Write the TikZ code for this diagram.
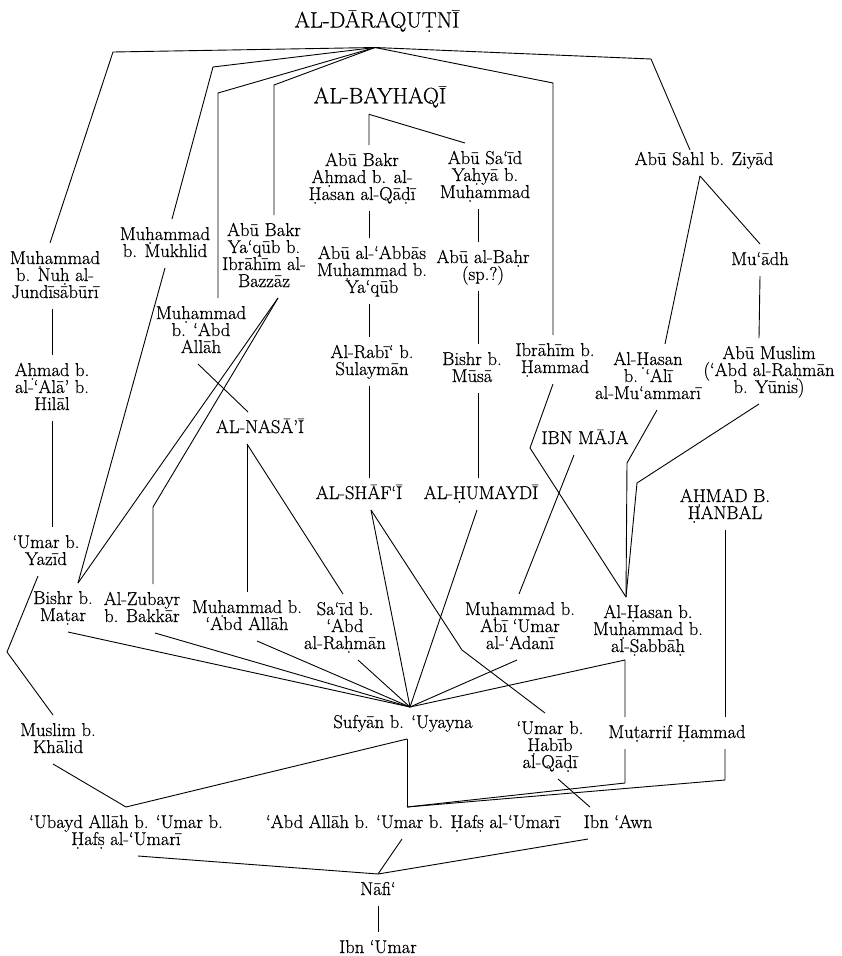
\documentclass[tikz,border=0pt]{standalone}
\usepackage{fontspec}
\setmainfont{Latin Modern Roman}[FakeBold=0.6]
% name text: tight leading, fixed first-line height and last-line depth
\newcommand\nmfont{\fontsize{18.6pt}{17pt}\selectfont\lineskiplimit=-50pt\lineskip=0pt\relax}
\newcommand\hdfont{\fontsize{22.3pt}{19pt}\selectfont\lineskiplimit=-50pt\lineskip=0pt\relax}
\newcommand\nTop{\rule{0pt}{16pt}}
\newcommand\hTop{\rule{0pt}{20pt}}
\newcommand\nBot{\rule[-6pt]{0pt}{6pt}}
\begin{document}
\begin{tikzpicture}[x=1pt,y=-1pt,
  nm/.style={font=\nmfont,align=center,inner sep=0pt,outer sep=5pt,anchor=north},
  hd/.style={font=\hdfont,align=center,inner sep=0pt,outer sep=5pt,anchor=north},
  ln/.style={draw,line width=0.9pt,line join=round}]
\useasboundingbox (0,0) rectangle (841,956);

% ---- names ----
\node[hd] (dar) at (377,2.5) {\hTop AL-DĀRAQUṬNĪ\nBot};
\node[hd] (bay) at (380,78.3) {\hTop AL-BAYHAQĪ\nBot};

\node[nm] (abubakrA) at (362,145) {\nTop Abū Bakr\\Aḥmad b. al-\\Ḥasan al-Qāḍī\nBot};
\node[nm] (abusaid) at (485,143) {\nTop Abū Sa‘īd\\Yaḥyā b.\\Muḥammad\nBot};
\node[nm] (abbas) at (372,238) {\nTop Abū al-‘Abbās\\Muḥammad b.\\Ya‘qūb\nBot};
\node[nm] (bahr) at (483,242) {\nTop Abū al-Baḥr\\(sp.?)\nBot};
\node[nm] (rabi) at (372,337) {\nTop Al-Rabī‘ b.\\Sulaymān\nBot};
\node[nm] (bishrM) at (472,344) {\nTop Bishr b.\\Mūsā\nBot};
\node[nm] (ibrahim) at (555,335) {\nTop Ibrāhīm b.\\Ḥammad\nBot};
\node[nm] (hasanA) at (648,344) {\nTop Al-Ḥasan\\b. ‘Alī\\al-Mu‘ammarī\nBot};
\node[nm] (abumuslim) at (769,338) {\nTop Abū Muslim\\(‘Abd al-Raḥmān\\b. Yūnis)\nBot};
\node[nm] (abusahl) at (704,144) {\nTop Abū Sahl b. Ziyād\nBot};
\node[nm] (muadh) at (760,244) {\nTop Mu‘ādh\nBot};

\node[nm] (nuh) at (55,243) {\nTop Muḥammad\\b. Nuḥ al-\\Jundīsābūrī\nBot};
\node[nm] (ahmadAla) at (52,355) {\nTop Aḥmad b.\\al-‘Alā’ b.\\Hilāl\nBot};
\node[nm] (umarYazid) at (46,527) {\nTop ‘Umar b.\\Yazīd\nBot};
\node[nm] (mukhlid) at (165,219) {\nTop Muḥammad\\b. Mukhlid\nBot};
\node[nm] (bazzaz) at (264,215) {\nTop Abū Bakr\\Ya‘qūb b.\\Ibrāhīm al-\\Bazzāz\nBot};
\node[nm] (muhAbdA) at (201,298) {\nTop Muḥammad\\b. ‘Abd\\Allāh\nBot};
\node[nm] (nasai) at (260,412) {\nTop AL-NASĀ’Ī\nBot};

\node[nm] (shafii) at (359,478) {\nTop AL-SHĀF‘Ī\nBot};
\node[nm] (humaydi) at (481,478) {\nTop AL-ḤUMAYDĪ\nBot};
\node[nm] (ibnmaja) at (585,423) {\nTop IBN MĀJA\nBot};
\node[nm] (hanbal) at (725,481) {\nTop AḤMAD B.\\ḤANBAL\nBot};

\node[nm] (bishrMatar) at (63,583) {\nTop Bishr b.\\Maṭar\nBot};
\node[nm] (zubayr) at (142,584) {\nTop Al-Zubayr\\b. Bakkār\nBot};
\node[nm] (muhAbdB) at (247,592) {\nTop Muḥammad b.\\‘Abd Allāh\nBot};
\node[nm] (said) at (345,594) {\nTop Sa‘īd b.\\‘Abd\\al-Raḥmān\nBot};
\node[nm] (muhAbiUmar) at (520,594) {\nTop Muḥammad b.\\Abī ‘Umar\\al-‘Adanī\nBot};
\node[nm] (hasanM) at (648,597) {\nTop Al-Ḥasan b.\\Muḥammad b.\\al-Ṣabbāḥ\nBot};

\node[nm] (sufyan) at (403,707) {\nTop Sufyān b. ‘Uyayna\nBot};
\node[nm] (umarHabib) at (550,713) {\nTop ‘Umar b.\\Ḥabīb\\al-Qāḍī\nBot};
\node[nm] (mh) at (677,717) {\nTop Muṭarrif Ḥammad\nBot};
\node[nm] (muslim) at (58,715) {\nTop Muslim b.\\Khālid\nBot};

\node[nm] (ubayd) at (126,807) {\nTop ‘Ubayd Allāh b. ‘Umar b.\\Ḥafṣ al-‘Umarī\nBot};
\node[nm] (abdallah) at (413,807) {\nTop ‘Abd Allāh b. ‘Umar b. Ḥafṣ al-‘Umarī\nBot};
\node[nm] (ibnawn) at (618,807) {\nTop Ibn ‘Awn\nBot};
\node[nm] (nafi) at (378,874) {\nTop Nāfi‘\nBot};
\node[nm] (ibnumar) at (378,932) {\nTop Ibn ‘Umar\nBot};

% ---- meeting points and bends ----
\coordinate (dap) at ([xshift=-2pt,yshift=-9pt]dar.south);
\coordinate (sap) at ([xshift=7pt]sufyan.north);
\coordinate (sbt) at ([xshift=4pt]sufyan.south);
\coordinate (aap) at ([xshift=-6pt]abdallah.north);
\coordinate (hmt) at ([xshift=-22pt]hasanM.north);
\coordinate (k1) at (113,52);
\coordinate (k2) at (213,67);
\coordinate (k3) at (218,93);
\coordinate (k4) at (274,85);
\coordinate (k5) at (553,83);
\coordinate (k6) at (651,59);
\coordinate (k7) at (530,448);
\coordinate (k8) at (627,463);
\coordinate (k9) at (637,483);
\coordinate (k10) at (7,652);
\coordinate (k11) at (153,507);
\coordinate (k12) at (625,660);
\coordinate (k13) at (462,650);
\coordinate (k14) at (625,783);
\coordinate (k15) at (725,780);

% ---- al-Daraqutni's lines ----
\draw[ln] (dap) -- (k1) -- ([xshift=-5pt]nuh.north);
\draw[ln] (dap) -- (k2) -- ([xshift=7pt]mukhlid.north);
\draw[ln] (dap) -- (k3) -- ([xshift=17pt]muhAbdA.north);
\draw[ln] (dap) -- (k4) -- ([xshift=10pt]bazzaz.north);
\draw[ln] (dap) -- (k5) -- ([xshift=-2pt]ibrahim.north);
\draw[ln] (dap) -- (k6) -- ([xshift=-14pt,yshift=-6pt]abusahl.north);

% ---- al-Bayhaqi's lines ----
\draw[ln] ([xshift=7pt]abubakrA.north) -- ([xshift=-11pt]bay.south) -- ([xshift=-20pt]abusaid.north);
\draw[ln] ([xshift=7pt]abubakrA.south) -- ([xshift=-3pt]abbas.north);
\draw[ln] ([xshift=-3pt]abbas.south) -- ([xshift=-3pt]rabi.north);
\draw[ln] ([xshift=-3pt]rabi.south) -- ([xshift=10pt]shafii.north);
\draw[ln] ([xshift=-7pt]abusaid.south) -- ([xshift=-5pt]bahr.north);
\draw[ln] ([xshift=-5pt]bahr.south) -- ([xshift=6pt]bishrM.north);
\draw[ln] ([xshift=6pt]bishrM.south) -- ([xshift=-3pt]humaydi.north);

% ---- Abu Sahl's lines ----
\draw[ln] ([xshift=-4pt]abusahl.south) -- (muadh.north);
\draw[ln] ([xshift=-4pt]abusahl.south) -- ([xshift=17pt]hasanA.north);
\draw[ln] (muadh.south) -- ([xshift=-10pt]abumuslim.north);

% ---- into al-Hasan b. Muhammad ----
\draw[ln] ([xshift=-2pt]ibrahim.south) -- (k7) -- (hmt);
\draw[ln] ([xshift=9pt]hasanA.south) -- (k8) -- (hmt);
\draw[ln] ([xshift=-10pt]abumuslim.south) -- (k9) -- (hmt);
\draw[ln] ([xshift=-11pt]ibnmaja.south) -- ([xshift=-1pt]muhAbiUmar.north);

% ---- left column ----
\draw[ln] ([xshift=-3pt]nuh.south) -- (ahmadAla.north);
\draw[ln] (ahmadAla.south) -- ([xshift=6pt]umarYazid.north);
\draw[ln] ([xshift=-8pt]umarYazid.south) -- (k10) -- ([xshift=-5pt]muslim.north);
\draw[ln] (mukhlid.south) -- ([xshift=15pt]bishrMatar.north);
\draw[ln] ([xshift=14pt]bazzaz.south) -- ([xshift=15pt]bishrMatar.north);
\draw[ln] ([xshift=14pt]bazzaz.south) -- (k11) -- ([xshift=11pt]zubayr.north);
\draw[ln] ([xshift=-3pt]muhAbdA.south) -- ([xshift=-12pt]nasai.north);
\draw[ln] ([xshift=-13pt]nasai.south) -- (muhAbdB.north);
\draw[ln] ([xshift=-13pt]nasai.south) -- ([xshift=-2pt]said.north);

% ---- into Sufyan b. Uyayna ----
\draw[ln] ([xshift=5pt]bishrMatar.south) -- (sap);
\draw[ln] ([xshift=13pt]zubayr.south) -- (sap);
\draw[ln] ([xshift=10pt]muhAbdB.south) -- (sap);
\draw[ln] ([xshift=13pt]said.south) -- (sap);
\draw[ln] ([xshift=12pt]shafii.south) -- (sap);
\draw[ln] ([xshift=-4pt]humaydi.south) -- (sap);
\draw[ln] ([xshift=-3pt]muhAbiUmar.south) -- (sap);
\draw[ln] (sap) -- (k12) -- ([xshift=-52pt]mh.north);
\draw[ln] ([xshift=12pt]shafii.south) -- (k13) -- ([xshift=-5pt]umarHabib.north);
\draw[ln] (hanbal.south) -- ([xshift=48pt]mh.north);

% ---- lower tiers ----
\draw[ln] ([xshift=-52pt]mh.south) -- (k14) -- (aap);
\draw[ln] ([xshift=48pt]mh.south) -- (k15) -- (aap);
\draw[ln] (sbt) -- (aap);
\draw[ln] (sbt) -- (ubayd.north);
\draw[ln] ([xshift=-5pt]muslim.south) -- (ubayd.north);
\draw[ln] ([xshift=8pt]umarHabib.south) -- ([xshift=-28pt]ibnawn.north);
\draw[ln] ([xshift=12pt]ubayd.south) -- (nafi.north);
\draw[ln] ([xshift=-11pt]abdallah.south) -- (nafi.north);
\draw[ln] ([xshift=-30pt]ibnawn.south) -- (nafi.north);
\draw[ln] (nafi.south) -- (ibnumar.north);
\end{tikzpicture}
\end{document}
